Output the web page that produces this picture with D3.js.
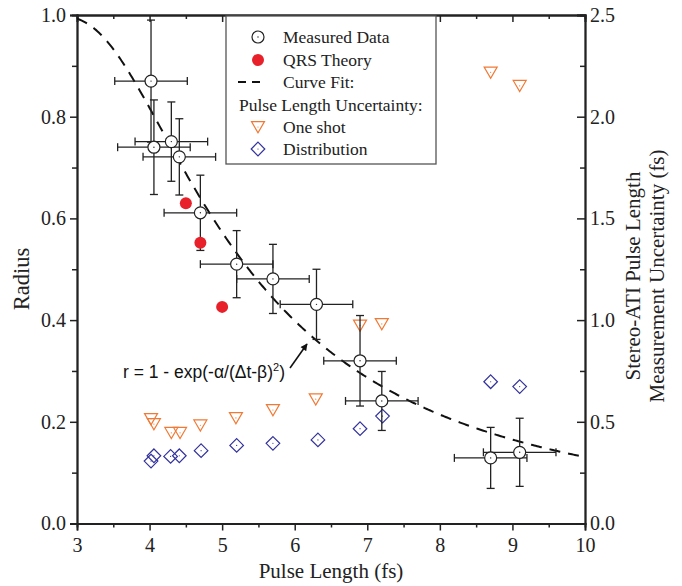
<!DOCTYPE html>
<html><head><meta charset="utf-8">
<script src="https://cdn.jsdelivr.net/npm/d3@7"></script>
<style>body{margin:0;background:#fff}svg{display:block}</style>
</head><body>
<script>
// ---- data ----
const measX    = [4.02, 4.06, 4.30, 4.41, 4.70, 5.20, 5.70, 6.30, 6.90, 7.20, 8.70, 9.10];
const measY    = [0.870, 0.740, 0.751, 0.721, 0.611, 0.510, 0.481, 0.431, 0.320, 0.241, 0.129, 0.140];
const measXErr = [0.5, 0.5, 0.5, 0.5, 0.5, 0.5, 0.5, 0.5, 0.5, 0.5, 0.5, 0.5];
const measYErr = [0.120, 0.093, 0.078, 0.075, 0.074, 0.066, 0.068, 0.069, 0.089, 0.058, 0.060, 0.067];
const qrsX = [4.50, 4.70, 5.00];
const qrsY = [0.630, 0.552, 0.426];
const oneShotX = [4.02, 4.06, 4.30, 4.42, 4.70, 5.19, 5.70, 6.29, 6.90, 7.20, 8.70, 9.10];
const oneShotY = [0.514, 0.489, 0.446, 0.446, 0.483, 0.519, 0.558, 0.611, 0.974, 0.981, 2.218, 2.152];
const distX = [4.02, 4.06, 4.29, 4.41, 4.71, 5.20, 5.70, 6.32, 6.90, 7.21, 8.70, 9.10];
const distY = [0.307, 0.333, 0.330, 0.333, 0.358, 0.384, 0.394, 0.411, 0.466, 0.528, 0.697, 0.673];
const fitAlpha = 9.92, fitBeta = 1.584;
const xTicks = [3, 4, 5, 6, 7, 8, 9, 10];
const yTicks = [0.0, 0.2, 0.4, 0.6, 0.8, 1.0];
const yRTicks = [0.0, 0.5, 1.0, 1.5, 2.0, 2.5];
const legendLabels = ["Measured Data", "QRS Theory", "Curve Fit:", "Pulse Length Uncertainty:", "One shot", "Distribution"];

const W = 682, H = 586;
const svg = d3.select("body").append("svg").attr("width", W).attr("height", H);
const x = d3.scaleLinear().domain([3, 10]).range([77, 585]);
const y = d3.scaleLinear().domain([0, 1]).range([523.5, 15]);
const yR = d3.scaleLinear().domain([0, 2.5]).range([523.5, 15]);

const axisColor = "#222";
const serif = "'Liberation Serif','Times New Roman',serif";
const orange = "#f07a35", blue = "#33329c", red = "#e8202a";

function styleAxis(g, showLabels) {
  g.select(".domain").attr("stroke", axisColor).attr("stroke-width", 1.8);
  g.selectAll(".tick line").attr("stroke", axisColor).attr("stroke-width", 1.5);
  g.selectAll(".tick text").attr("font-family", serif).attr("font-size", 20).attr("fill", axisColor);
  if (!showLabels) g.selectAll(".tick text").remove();
}
const minorX = d3.range(3.5, 10, 1);
const minorY = d3.range(0.1, 1.0, 0.2);
const minorYR = d3.range(0.25, 2.5, 0.5);

// bottom
svg.append("g").attr("transform", "translate(0,523.5)")
  .call(d3.axisBottom(x).tickValues(minorX).tickSize(4).tickFormat(""))
  .call(g => styleAxis(g, false));
svg.append("g").attr("transform", "translate(0,523.5)")
  .call(d3.axisBottom(x).tickValues(xTicks).tickSize(7).tickPadding(7).tickFormat(d3.format("d")))
  .call(g => styleAxis(g, true));
// top
svg.append("g").attr("transform", "translate(0,15)")
  .call(d3.axisTop(x).tickValues(minorX).tickSize(-4).tickFormat(""))
  .call(g => styleAxis(g, false));
svg.append("g").attr("transform", "translate(0,15)")
  .call(d3.axisTop(x).tickValues(xTicks).tickSize(-7).tickFormat(""))
  .call(g => styleAxis(g, false));
// left
svg.append("g").attr("transform", "translate(77,0)")
  .call(d3.axisLeft(y).tickValues(minorY).tickSize(5).tickFormat(""))
  .call(g => styleAxis(g, false));
svg.append("g").attr("transform", "translate(77,0)")
  .call(d3.axisLeft(y).tickValues(yTicks).tickSize(7).tickPadding(4).tickFormat(d3.format(".1f")))
  .call(g => styleAxis(g, true));
// right
svg.append("g").attr("transform", "translate(585,0)")
  .call(d3.axisRight(yR).tickValues(minorYR).tickSize(-5).tickFormat(""))
  .call(g => styleAxis(g, false));
svg.append("g").attr("transform", "translate(585,0)")
  .call(d3.axisRight(yR).tickValues(yRTicks).tickSize(-8).tickPadding(5).tickFormat(d3.format(".1f")))
  .call(g => styleAxis(g, true));

// axis titles
svg.append("text").attr("x", (77 + 585) / 2).attr("y", 578).attr("text-anchor", "middle")
  .attr("font-family", serif).attr("font-size", 21).attr("fill", axisColor).text("Pulse Length (fs)");
svg.append("text").attr("transform", "translate(29,279) rotate(-90)").attr("text-anchor", "middle")
  .attr("font-family", serif).attr("font-size", 22.5).attr("fill", axisColor).text("Radius");
const rt = svg.append("text").attr("transform", "translate(640,276) rotate(-90)").attr("text-anchor", "middle")
  .attr("font-family", serif).attr("font-size", 21).attr("fill", axisColor);
rt.append("tspan").attr("x", 0).attr("dy", 0).text("Stereo-ATI Pulse Length");
rt.append("tspan").attr("x", 0).attr("dy", 23.5).text("Measurement Uncertainty (fs)");

// clip
svg.append("clipPath").attr("id", "plotclip").append("rect")
  .attr("x", 77).attr("y", 15).attr("width", 508).attr("height", 508.5);

// curve fit
const fitXs = d3.range(3, 10.001, 0.02);
const fitLine = d3.line().x(d => x(d)).y(d => y(1 - Math.exp(-fitAlpha / ((d - fitBeta) ** 2))));
svg.append("path").datum(fitXs).attr("d", fitLine).attr("fill", "none")
  .attr("stroke", "#111").attr("stroke-width", 2).attr("stroke-dasharray", "11,8")
  .attr("clip-path", "url(#plotclip)");

// marker shapes
const triPath = s => `M${-s},${-s * 0.82}L${s},${-s * 0.82}L0,${s * 0.9}Z`;
const diaPath = s => `M0,${-s}L${s},0L0,${s}L${-s},0Z`;

// one shot triangles
const tri = svg.append("g");
oneShotX.forEach((vx, i) => {
  const g = tri.append("g").attr("transform", `translate(${x(vx)},${yR(oneShotY[i])})`);
  g.append("path").attr("d", triPath(6.5)).attr("fill", "none").attr("stroke", orange).attr("stroke-width", 1.2);
  g.append("circle").attr("r", 0.6).attr("fill", orange);
});
// distribution diamonds
const dia = svg.append("g");
distX.forEach((vx, i) => {
  const g = dia.append("g").attr("transform", `translate(${x(vx)},${yR(distY[i])})`);
  g.append("path").attr("d", diaPath(6.8)).attr("fill", "none").attr("stroke", blue).attr("stroke-width", 1.2);
  g.append("circle").attr("r", 0.6).attr("fill", blue);
});

// error bars
const eb = svg.append("g").attr("stroke", "#222").attr("stroke-width", 1.3);
const cap = 4;
measX.forEach((vx, i) => {
  const cx = x(vx), cy = y(measY[i]);
  const x0 = x(vx - measXErr[i]), x1 = x(vx + measXErr[i]);
  const y0 = y(measY[i] - measYErr[i]), y1 = y(measY[i] + measYErr[i]);
  eb.append("line").attr("x1", x0).attr("x2", x1).attr("y1", cy).attr("y2", cy);
  eb.append("line").attr("x1", x0).attr("x2", x0).attr("y1", cy - cap).attr("y2", cy + cap);
  eb.append("line").attr("x1", x1).attr("x2", x1).attr("y1", cy - cap).attr("y2", cy + cap);
  eb.append("line").attr("x1", cx).attr("x2", cx).attr("y1", y0).attr("y2", y1);
  eb.append("line").attr("x1", cx - cap).attr("x2", cx + cap).attr("y1", y0).attr("y2", y0);
  eb.append("line").attr("x1", cx - cap).attr("x2", cx + cap).attr("y1", y1).attr("y2", y1);
});
// measured circles
const mc = svg.append("g");
measX.forEach((vx, i) => {
  const g = mc.append("g").attr("transform", `translate(${x(vx)},${y(measY[i])})`);
  g.append("circle").attr("r", 6).attr("fill", "#fff").attr("stroke", "#222").attr("stroke-width", 1.2);
  g.append("circle").attr("r", 0.7).attr("fill", "#222");
});
// QRS theory
svg.append("g").selectAll("circle").data(qrsX).join("circle")
  .attr("cx", d => x(d)).attr("cy", (d, i) => y(qrsY[i])).attr("r", 6).attr("fill", red);

// annotation
const ann = svg.append("text").attr("x", 123).attr("y", 378)
  .attr("font-family", "'Liberation Sans',Arial,sans-serif").attr("font-size", 17.5).attr("fill", "#111");
ann.append("tspan").text("r = 1 - exp(-α/(Δt-β)");
ann.append("tspan").attr("dy", -7).attr("font-size", 11).text("2");
ann.append("tspan").attr("dy", 7).text(")");
svg.append("defs").append("marker").attr("id", "ah").attr("viewBox", "0 0 10 10")
  .attr("refX", 9).attr("refY", 5).attr("markerWidth", 10).attr("markerHeight", 7)
  .attr("markerUnits", "userSpaceOnUse").attr("orient", "auto")
  .append("path").attr("d", "M0,0L10,5L0,10Z").attr("fill", "#111");
svg.append("line").attr("x1", 290).attr("y1", 368).attr("x2", 307).attr("y2", 344)
  .attr("stroke", "#111").attr("stroke-width", 1.6).attr("marker-end", "url(#ah)");

// legend
const lg = svg.append("g");
lg.append("rect").attr("x", 226).attr("y", 16).attr("width", 210).attr("height", 148)
  .attr("fill", "#fff").attr("stroke", "#555").attr("stroke-width", 1.3);
const rowsY = [37, 60, 82, 105, 127, 149];
const symX = 258, txtX = 283;
legendLabels.forEach((t, i) => {
  lg.append("text").attr("x", i === 3 ? 239 : txtX).attr("y", rowsY[i]).attr("dy", "0.35em")
    .attr("font-family", serif).attr("font-size", 17.5).attr("fill", "#222").text(t);
});
const s0 = lg.append("g").attr("transform", `translate(${symX},${rowsY[0]})`);
s0.append("circle").attr("r", 6).attr("fill", "#fff").attr("stroke", "#222").attr("stroke-width", 1.2);
s0.append("circle").attr("r", 0.7).attr("fill", "#222");
lg.append("circle").attr("cx", symX).attr("cy", rowsY[1]).attr("r", 6).attr("fill", red);
lg.append("line").attr("x1", 238).attr("x2", 265).attr("y1", rowsY[2]).attr("y2", rowsY[2])
  .attr("stroke", "#111").attr("stroke-width", 2).attr("stroke-dasharray", "8,6");
const s4 = lg.append("g").attr("transform", `translate(${symX},${rowsY[4]})`);
s4.append("path").attr("d", triPath(6.5)).attr("fill", "none").attr("stroke", orange).attr("stroke-width", 1.2);
s4.append("circle").attr("r", 0.6).attr("fill", orange);
const s5 = lg.append("g").attr("transform", `translate(${symX},${rowsY[5]})`);
s5.append("path").attr("d", diaPath(6.8)).attr("fill", "none").attr("stroke", blue).attr("stroke-width", 1.2);
s5.append("circle").attr("r", 0.6).attr("fill", blue);
</script>
</body></html>
